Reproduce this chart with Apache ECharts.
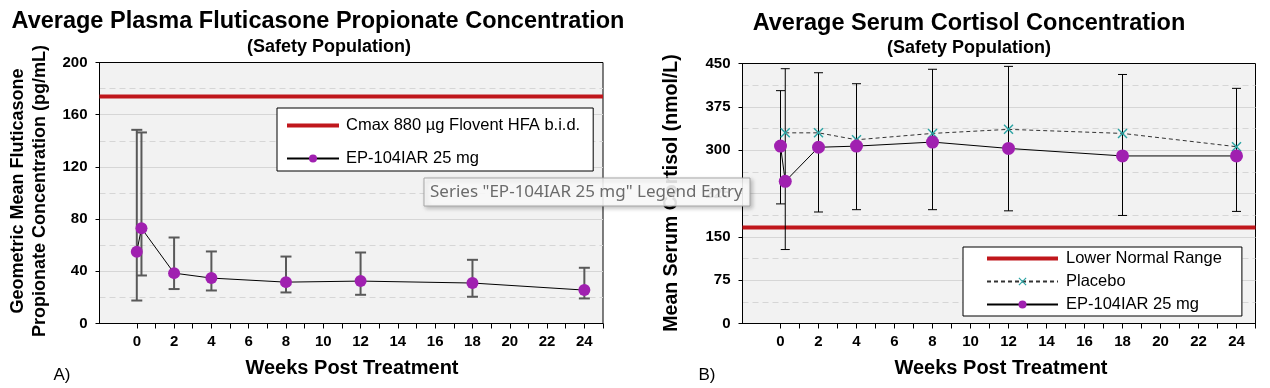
<!DOCTYPE html>
<html>
<head>
<meta charset="utf-8">
<script src="https://cdn.jsdelivr.net/npm/echarts@6/dist/echarts.min.js"></script>
<style>
html,body{margin:0;padding:0;background:#fff;}
#c{width:1270px;height:388px;}
</style>
</head>
<body>
<div id="c"></div>
<script>
// ---------- data ----------
const xTicks = [0,1,2,3,4,5,6,7,8,9,10,11,12,13,14,15,16,17,18,19,20,21,22,23,24,25];
const xLabels = [0,2,4,6,8,10,12,14,16,18,20,22,24];

// Panel A: plasma fluticasone propionate (pg/mL)
const fpWeeks = [0, 0.25, 2, 4, 8, 12, 18, 24];
const fpMean  = [55, 73, 38.6, 34.8, 31.7, 32.5, 31.0, 25.6];
const fpLow   = [17.6, 36.8, 26.4, 25.3, 23.8, 22.0, 20.5, 19.2];
const fpHigh  = [148.4, 146.4, 65.9, 55.2, 51.3, 54.4, 48.8, 42.7];
const cmaxValue = 174;

// Panel B: serum cortisol (nmol/L)
const coWeeks = [0, 0.25, 2, 4, 8, 12, 18, 24];
const coMean  = [307, 246, 305, 307, 314, 303, 290, 290];
const coLow   = [207, 128, 193, 197, 197, 195, 187, 194];
const coHigh  = [403, 441, 434, 415, 440, 445, 431, 407];
const placeboWeeks = [0.25, 2, 4, 8, 12, 18, 24];
const placeboMean  = [330, 330, 318, 329, 336, 329, 306];
const lowerNormalValue = 166;

// ---------- styles ----------
const FONT = "'Liberation Sans', Arial, sans-serif";
const RED = '#c0171c';
const PURPLE = '#a020b0';
const TEAL = '#2aa3a3';
const X_PATH = 'path://M1,0 L5,4 L9,0 L10,1 L6,5 L10,9 L9,10 L5,6 L1,10 L0,9 L4,5 L0,1 Z';
const BAR_ICON_A = 'path://M0,0 L52,0 L52,4 L0,4 Z';
const BAR_ICON_B = 'path://M0,0 L71,0 L71,4 L0,4 Z';

function errRender(capHalf, color, width) {
  return function (params, api) {
    const x = api.value(0), lo = api.value(1), hi = api.value(2);
    const a = api.coord([x, lo]), b = api.coord([x, hi]);
    const st = {stroke: color, lineWidth: width};
    return {type: 'group', children: [
      {type: 'line', shape: {x1: a[0], y1: a[1], x2: b[0], y2: b[1]}, style: st},
      {type: 'line', shape: {x1: a[0]-capHalf, y1: a[1], x2: a[0]+capHalf, y2: a[1]}, style: st},
      {type: 'line', shape: {x1: b[0]-capHalf, y1: b[1], x2: b[0]+capHalf, y2: b[1]}, style: st}
    ]};
  };
}

function xAxisCfg(gi) {
  return {
    gridIndex: gi, type: 'value', min: -2, max: 25,
    axisLine: {onZero: false, lineStyle: {color: '#000', width: 1}},
    axisTick: {customValues: xTicks, length: 5, lineStyle: {color: '#000'}},
    axisLabel: {customValues: xLabels, fontFamily: FONT, fontWeight: 'bold', fontSize: 15, color: '#000', margin: 11},
    splitLine: {show: false}
  };
}
function yAxisCfg(gi, max, interval) {
  return {
    gridIndex: gi, type: 'value', min: 0, max: max, interval: interval,
    axisLine: {show: true, onZero: false, lineStyle: {color: '#000', width: 1}},
    axisTick: {show: true, length: 4, lineStyle: {color: '#000'}},
    axisLabel: {fontFamily: FONT, fontWeight: 'bold', fontSize: 15, color: '#000', margin: 12},
    splitLine: {show: true, showMaxLine: false, lineStyle: {color: '#d6d6d6', width: 1}},
    minorTick: {show: false, splitNumber: 2},
    minorSplitLine: {show: true, lineStyle: {color: '#d6d6d6', width: 1, type: [6, 4]}}
  };
}

const txt = (x, y, text, size, weight, extra) => Object.assign({
  type: 'text', x: x, y: y, z: 50,
  style: {text: text, fontFamily: FONT, fontSize: size, fontWeight: weight, fill: '#000', align: 'center', verticalAlign: 'middle'}
}, extra || {});

const chart = echarts.init(document.getElementById('c'), null, {renderer: 'canvas'});
chart.setOption({
  animation: false,
  backgroundColor: '#fff',
  grid: [
    {left: 99.5, top: 62.5, width: 503.5, height: 261, show: true, backgroundColor: '#f2f2f2', borderColor: '#000', borderWidth: 1},
    {left: 742.5, top: 63.5, width: 513, height: 260, show: true, backgroundColor: '#f2f2f2', borderColor: '#000', borderWidth: 1}
  ],
  xAxis: [xAxisCfg(0), xAxisCfg(1)],
  yAxis: [yAxisCfg(0, 200, 40), yAxisCfg(1, 450, 75)],
  legend: [
    {
      data: [{name: 'Cmax 880 µg Flovent HFA b.i.d.', icon: BAR_ICON_A}, 'EP-104IAR 25 mg'],
      orient: 'vertical', left: 277, top: 108,
      itemWidth: 52, itemHeight: 10, itemGap: 16,
      padding: [9, 13, 4, 9],
      backgroundColor: '#fff', borderColor: '#000', borderWidth: 1, borderRadius: 0,
      textStyle: {fontFamily: FONT, fontSize: 16.5, lineHeight: 16, color: '#000', padding: [0, 0, 0, 2]},
      selectedMode: false, z: 8
    },
    {
      data: [{name: 'Lower Normal Range', icon: BAR_ICON_B}, 'Placebo', 'EP-104IAR 25 mg (B)'],
      formatter: n => n.replace(' (B)', ''),
      orient: 'vertical', left: 963, top: 247,
      itemWidth: 71, itemHeight: 10, itemGap: 6,
      padding: [3, 20, 3, 23],
      backgroundColor: '#fff', borderColor: '#000', borderWidth: 1, borderRadius: 0,
      textStyle: {fontFamily: FONT, fontSize: 16.5, lineHeight: 16, color: '#000', padding: [0, 0, 0, 3]},
      selectedMode: false, z: 8
    }
  ],
  series: [
    // Panel A
    {
      name: 'Cmax 880 µg Flovent HFA b.i.d.', type: 'line', xAxisIndex: 0, yAxisIndex: 0,
      data: [[-2, cmaxValue], [25, cmaxValue]], symbol: 'none',
      lineStyle: {color: RED, width: 4}, itemStyle: {color: RED}, z: 3
    },
    {
      name: 'A errors', type: 'custom', xAxisIndex: 0, yAxisIndex: 0,
      data: fpWeeks.map((w, i) => [w, fpLow[i], fpHigh[i]]),
      encode: {x: 0, y: [1, 2]},
      renderItem: errRender(5.5, '#595959', 2), z: 4
    },
    {
      name: 'EP-104IAR 25 mg', type: 'line', xAxisIndex: 0, yAxisIndex: 0,
      data: fpWeeks.map((w, i) => [w, fpMean[i]]),
      symbol: 'circle', symbolSize: 12,
      itemStyle: {color: PURPLE}, lineStyle: {color: '#000', width: 1}, z: 5
    },
    // Panel B
    {
      name: 'Lower Normal Range', type: 'line', xAxisIndex: 1, yAxisIndex: 1,
      data: [[-2, lowerNormalValue], [25, lowerNormalValue]], symbol: 'none',
      lineStyle: {color: RED, width: 4}, itemStyle: {color: RED}, z: 3
    },
    {
      name: 'B errors', type: 'custom', xAxisIndex: 1, yAxisIndex: 1,
      data: coWeeks.map((w, i) => [w, coLow[i], coHigh[i]]),
      encode: {x: 0, y: [1, 2]},
      renderItem: errRender(4.5, '#000', 1), z: 4
    },
    {
      name: 'Placebo', type: 'line', xAxisIndex: 1, yAxisIndex: 1,
      data: placeboWeeks.map((w, i) => [w, placeboMean[i]]),
      symbol: X_PATH, symbolSize: 10,
      itemStyle: {color: TEAL}, lineStyle: {color: '#333', width: 1, type: [4, 3]}, z: 5
    },
    {
      name: 'EP-104IAR 25 mg (B)', type: 'line', xAxisIndex: 1, yAxisIndex: 1,
      data: coWeeks.map((w, i) => [w, coMean[i]]),
      symbol: 'circle', symbolSize: 13,
      itemStyle: {color: PURPLE}, lineStyle: {color: '#000', width: 1}, z: 6
    }
  ],
  graphic: [
    txt(318, 22, 'Average Plasma Fluticasone Propionate Concentration', 23.5, 'bold'),
    txt(329, 47, '(Safety Population)', 18, 'bold'),
    txt(969, 24, 'Average Serum Cortisol Concentration', 23.5, 'bold'),
    txt(969, 48, '(Safety Population)', 18, 'bold'),
    txt(352, 368, 'Weeks Post Treatment', 20, 'bold'),
    txt(1001, 368, 'Weeks Post Treatment', 20, 'bold'),
    txt(29, 191, '', 18, 'bold', {rotation: Math.PI / 2, style: {text: 'Geometric Mean Fluticasone\nPropionate Concentration (pg/mL)', fontFamily: FONT, fontSize: 18, fontWeight: 'bold', fill: '#000', align: 'center', verticalAlign: 'middle', lineHeight: 22}}),
    txt(672, 193, 'Mean Serum Cortisol (nmol/L)', 19.5, 'bold', {rotation: Math.PI / 2}),
    txt(62, 375, 'A)', 17, 'normal'),
    txt(707, 375, 'B)', 17, 'normal'),
    {
      type: 'rect', z: 200, shape: {x: 424, y: 178, width: 326, height: 28},
      style: {fill: 'rgba(255,255,255,0.88)', stroke: '#a6a6a6', lineWidth: 1,
              shadowBlur: 4, shadowOffsetX: 2, shadowOffsetY: 2, shadowColor: 'rgba(0,0,0,0.25)'}
    },
    {
      type: 'text', z: 201, x: 430, y: 192,
      style: {text: 'Series "EP-104IAR 25 mg" Legend Entry', fontFamily: "'Noto Sans', 'Open Sans', sans-serif", fontSize: 17, fill: '#6b6b6b', align: 'left', verticalAlign: 'middle'}
    }
  ]
});
</script>
</body>
</html>
